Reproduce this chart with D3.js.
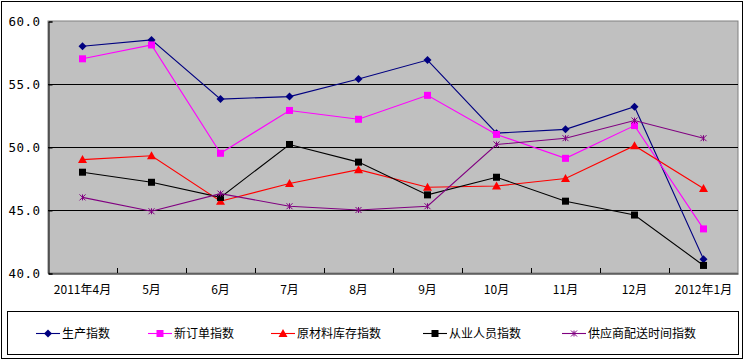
<!DOCTYPE html>
<html><head><meta charset="utf-8">
<script src="https://cdn.jsdelivr.net/npm/d3@7/dist/d3.min.js"></script>
<style>body{margin:0;background:#fff}svg{display:block}</style>
</head><body>
<svg id="c" width="745" height="361"></svg>
<script>
const categories = ["2011年4月","5月","6月","7月","8月","9月","10月","11月","12月","2012年1月"];
const production = [58.0,58.5,53.8,54.0,55.4,56.9,51.1,51.4,53.2,41.1];
const newOrders = [57.0,58.1,49.5,52.9,52.2,54.1,51.0,49.1,51.7,43.5];
const rawInventory = [49.0,49.3,45.7,47.1,48.2,46.8,46.9,47.5,50.1,46.7];
const employment = [48.0,47.2,46.0,50.2,48.8,46.2,47.6,45.7,44.6,40.6];
const supplierDelivery = [46.0,44.9,46.3,45.3,45.0,45.3,50.2,50.7,52.1,50.7];
const seriesNames = ["生产指数","新订单指数","原材料库存指数","从业人员指数","供应商配送时间指数"];
const yTicks = [40,45,50,55,60];

const series = [
  {name:seriesNames[0], values:production, color:"#000080", marker:"diamond"},
  {name:seriesNames[1], values:newOrders, color:"#FF00FF", marker:"square"},
  {name:seriesNames[2], values:rawInventory, color:"#FF0000", marker:"triangle"},
  {name:seriesNames[3], values:employment, color:"#000000", marker:"square"},
  {name:seriesNames[4], values:supplierDelivery, color:"#800080", marker:"star"}
];

const svg = d3.select("#c");
const L=48, T=21, R=738, B=273;
const x = d3.scaleBand().domain(categories).range([L,R]);
const y = d3.scaleLinear().domain([40,60]).range([B,T]);
const font = "'DejaVu Sans Mono','Noto Sans CJK SC',monospace";
const cjk = "'Noto Sans CJK SC','DejaVu Sans',sans-serif";

svg.append("rect").attr("x",1.5).attr("y",1.5).attr("width",741).attr("height",357)
  .attr("fill","#fff").attr("stroke","#000").attr("stroke-width",1);

svg.append("rect").attr("x",L).attr("y",T).attr("width",R-L).attr("height",B-T)
  .attr("fill","#C0C0C0").attr("stroke","#808080").attr("stroke-width",1);

svg.append("g").selectAll("line").data(yTicks.filter(d=>d>40&&d<60)).join("line")
  .attr("x1",L).attr("x2",R).attr("y1",d=>Math.round(y(d))+0.5).attr("y2",d=>Math.round(y(d))+0.5)
  .attr("stroke","#000").attr("stroke-width",1);

const yAxis = d3.axisLeft(y).tickValues(yTicks).tickSize(-4).tickPadding(8).tickFormat(d3.format(".1f"));
const gy = svg.append("g").attr("transform",`translate(${L+0.5},0.5)`).call(yAxis);
gy.select(".domain").attr("stroke","#000");
gy.selectAll(".tick line").attr("stroke","#000");
gy.selectAll("text").attr("font-family",font).attr("font-size",12.5).attr("fill","#000").attr("letter-spacing","0.5px");

const xAxis = d3.axisBottom(x).tickSize(0).tickPadding(12);
const gx = svg.append("g").attr("transform",`translate(0,${B+0.5})`).call(xAxis);
gx.select(".domain").attr("stroke","#000");
gx.selectAll("text").attr("font-family",cjk).attr("font-size",12).attr("fill","#000");
svg.append("g").selectAll("line").data(categories.slice(1)).join("line")
  .attr("x1",d=>Math.round(x(d))+0.5).attr("x2",d=>Math.round(x(d))+0.5)
  .attr("y1",B).attr("y2",B-5).attr("stroke","#000");

const cx = d=>x(d)+x.bandwidth()/2;

function drawMarker(g, type, color, px, py){
  if(type==="diamond"){
    g.append("path").attr("d",`M${px},${py-4}L${px+4},${py}L${px},${py+4}L${px-4},${py}Z`).attr("fill",color);
  } else if(type==="square"){
    g.append("rect").attr("x",px-3.5).attr("y",py-3.5).attr("width",7).attr("height",7).attr("fill",color);
  } else if(type==="triangle"){
    g.append("path").attr("d",`M${px},${py-4.5}L${px+4.5},${py+3.5}L${px-4.5},${py+3.5}Z`).attr("fill",color);
  } else if(type==="star"){
    g.append("path").attr("d",`M${px-3},${py-3}L${px+3},${py+3}M${px+3},${py-3}L${px-3},${py+3}M${px},${py-3}L${px},${py+3}`)
      .attr("stroke",color).attr("stroke-width",1).attr("fill","none");
  }
}

const line = d3.line().x((d,i)=>cx(categories[i])).y(d=>y(d));
series.forEach(s=>{
  const g = svg.append("g");
  g.append("path").attr("d",line(s.values)).attr("fill","none").attr("stroke",s.color).attr("stroke-width",1.1);
  s.values.forEach((v,i)=>drawMarker(g,s.marker,s.color,cx(categories[i]),y(v)));
});

svg.append("rect").attr("x",7.5).attr("y",311.5).attr("width",731).attr("height",43)
  .attr("fill","#fff").attr("stroke","#000");
const legX = [36,148,271,423,562];
series.forEach((s,i)=>{
  const g = svg.append("g");
  const ly = 333.5;
  g.append("line").attr("x1",legX[i]).attr("x2",legX[i]+24).attr("y1",ly).attr("y2",ly).attr("stroke",s.color).attr("stroke-width",1.1);
  drawMarker(g,s.marker,s.color,legX[i]+12,ly);
  g.append("text").attr("x",legX[i]+26).attr("y",ly).attr("dy","0.35em")
    .attr("font-family",cjk).attr("font-size",12).attr("fill","#000").text(s.name);
});
</script>
</body></html>
